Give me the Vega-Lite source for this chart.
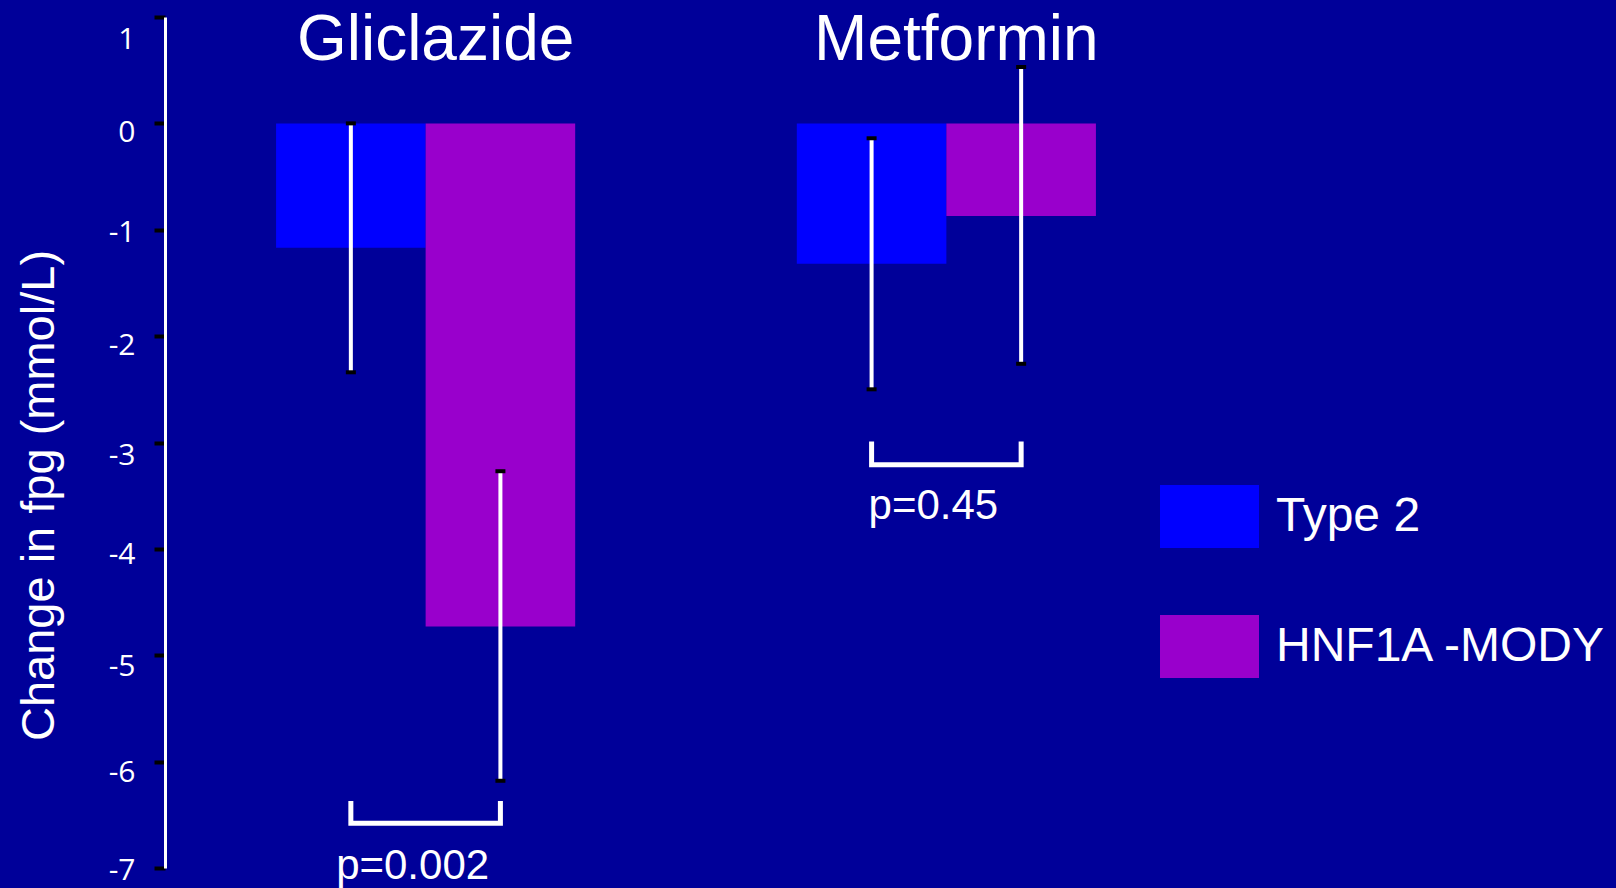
{
  "$schema": "https://vega.github.io/schema/vega-lite/v6.json",
  "width": 1042,
  "height": 851,
  "autosize": {"type": "none"},
  "padding": {"left": 165, "top": 17, "right": 409, "bottom": 20},
  "background": "#000099",
  "config": {"view": {"stroke": null}, "font": "Liberation Sans"},
  "datasets": {
    "bars": [
      {"drug": "Gliclazide", "group": "Type 2", "mean": -1.17, "lo": -2.34, "hi": 0.0},
      {"drug": "Gliclazide", "group": "HNF1A -MODY", "mean": -4.73, "lo": -6.18, "hi": -3.27},
      {"drug": "Metformin", "group": "Type 2", "mean": -1.32, "lo": -2.5, "hi": -0.14},
      {"drug": "Metformin", "group": "HNF1A -MODY", "mean": -0.87, "lo": -2.26, "hi": 0.53}
    ],
    "brackets": [
      {"drug": "Gliclazide", "group": "Type 2", "level": -6.37, "step": 1},
      {"drug": "Gliclazide", "group": "Type 2", "level": -6.58, "step": 2},
      {"drug": "Gliclazide", "group": "HNF1A -MODY", "level": -6.58, "step": 3},
      {"drug": "Gliclazide", "group": "HNF1A -MODY", "level": -6.37, "step": 4},
      {"drug": "Metformin", "group": "Type 2", "level": -2.99, "step": 1},
      {"drug": "Metformin", "group": "Type 2", "level": -3.21, "step": 2},
      {"drug": "Metformin", "group": "HNF1A -MODY", "level": -3.21, "step": 3},
      {"drug": "Metformin", "group": "HNF1A -MODY", "level": -2.99, "step": 4}
    ],
    "pvalues": [
      {"drug": "Gliclazide", "p": "p=0.002", "at": -7.1},
      {"drug": "Metformin", "p": "p=0.45", "at": -3.72}
    ],
    "drugs": [
      {"drug": "Gliclazide"},
      {"drug": "Metformin"}
    ]
  },
  "layer": [
    {
      "data": {"name": "bars"},
      "mark": {"type": "bar"},
      "encoding": {
        "x": {"field": "drug", "type": "nominal", "axis": null,
              "scale": {"domain": ["Gliclazide", "Metformin"], "paddingInner": 0.4256, "paddingOuter": 0.2133}},
        "xOffset": {"field": "group", "type": "nominal", "scale": {"domain": ["Type 2", "HNF1A -MODY"]}},
        "y": {
          "field": "mean", "type": "quantitative",
          "scale": {"domain": [-7, 1], "nice": false, "zero": false},
          "axis": {
            "values": [1, 0, -1, -2, -3, -4, -5, -6, -7],
            "labelExpr": "'' + datum.value",
            "grid": false,
            "title": "Change in fpg (mmol/L)",
            "domainColor": "#ffffff",
            "domainWidth": 3,
            "tickColor": "#000000",
            "tickWidth": 4,
            "tickSize": 11,
            "labelFont": "Open Sans",
            "labelFontSize": 30,
            "labelColor": "#ffffff",
            "labelPadding": 19,
            "labelFlush": false,
            "labelOverlap": false,
            "labelOffset": {"expr": "datum.value == 1 ? 22 : datum.value == 0 ? 9 : datum.value == -1 ? 3 : datum.value == -2 ? 9 : datum.value == -3 ? 13 : datum.value == -4 ? 6 : datum.value == -5 ? 11 : datum.value == -6 ? 11 : 2"},
            "titleFont": "Liberation Sans",
            "titleFontSize": 47,
            "titleFontWeight": "normal",
            "titleColor": "#ffffff",
            "titleAngle": -90,
            "titleX": -126,
            "titleY": 478,
            "titleAlign": "center",
            "titleBaseline": "middle"
          }
        },
        "y2": {"datum": 0},
        "color": {
          "field": "group", "type": "nominal",
          "scale": {"domain": ["Type 2", "HNF1A -MODY"], "range": ["#0000ff", "#9900cc"]},
          "legend": {
            "orient": "none",
            "legendX": 995,
            "legendY": 450,
            "title": null,
            "padding": 0,
            "symbolType": "M-1,-0.635H1V0.635H-1Z",
            "symbolSize": 9801,
            "symbolStrokeWidth": 0,
            "symbolOpacity": 1,
            "labelFont": "Liberation Sans",
            "labelFontSize": 48,
            "labelColor": "#ffffff",
            "labelOffset": 17,
            "labelLimit": 600,
            "rowPadding": 49
          }
        }
      }
    },
    {
      "mark": {"type": "rule", "color": "#6666ff", "opacity": 0.5, "strokeWidth": 1},
      "encoding": {"y": {"datum": 0}}
    },
    {
      "data": {"name": "bars"},
      "mark": {"type": "rule", "color": "#ffffff", "strokeWidth": 4},
      "encoding": {
        "x": {"field": "drug", "type": "nominal"},
        "xOffset": {"field": "group", "type": "nominal", "scale": {"domain": ["Type 2", "HNF1A -MODY"]}},
        "y": {"field": "lo", "type": "quantitative"},
        "y2": {"field": "hi"}
      }
    },
    {
      "data": {"name": "bars"},
      "transform": [{"fold": ["lo", "hi"], "as": ["end", "val"]}],
      "mark": {"type": "tick", "color": "#000000", "thickness": 4, "size": 10, "orient": "horizontal", "opacity": 1},
      "encoding": {
        "x": {"field": "drug", "type": "nominal"},
        "xOffset": {"field": "group", "type": "nominal", "scale": {"domain": ["Type 2", "HNF1A -MODY"]}},
        "y": {"field": "val", "type": "quantitative"}
      }
    },
    {
      "data": {"name": "brackets"},
      "mark": {"type": "line", "color": "#ffffff", "strokeWidth": 5, "strokeJoin": "miter", "strokeCap": "butt"},
      "encoding": {
        "x": {"field": "drug", "type": "nominal"},
        "xOffset": {"field": "group", "type": "nominal", "scale": {"domain": ["Type 2", "HNF1A -MODY"]}},
        "y": {"field": "level", "type": "quantitative"},
        "order": {"field": "step", "type": "quantitative"},
        "detail": {"field": "drug"}
      }
    },
    {
      "data": {"name": "pvalues"},
      "mark": {"type": "text", "font": "Liberation Sans", "fontSize": 42, "color": "#ffffff", "align": "center", "baseline": "alphabetic", "dx": -13},
      "encoding": {
        "x": {"field": "drug", "type": "nominal"},
        "y": {"field": "at", "type": "quantitative"},
        "text": {"field": "p"}
      }
    },
    {
      "data": {"name": "drugs"},
      "mark": {"type": "text", "font": "Liberation Sans", "fontSize": 64, "color": "#ffffff", "align": "center", "baseline": "alphabetic", "dx": 10},
      "encoding": {
        "x": {"field": "drug", "type": "nominal"},
        "y": {"datum": 0.6},
        "text": {"field": "drug"}
      }
    }
  ]
}
